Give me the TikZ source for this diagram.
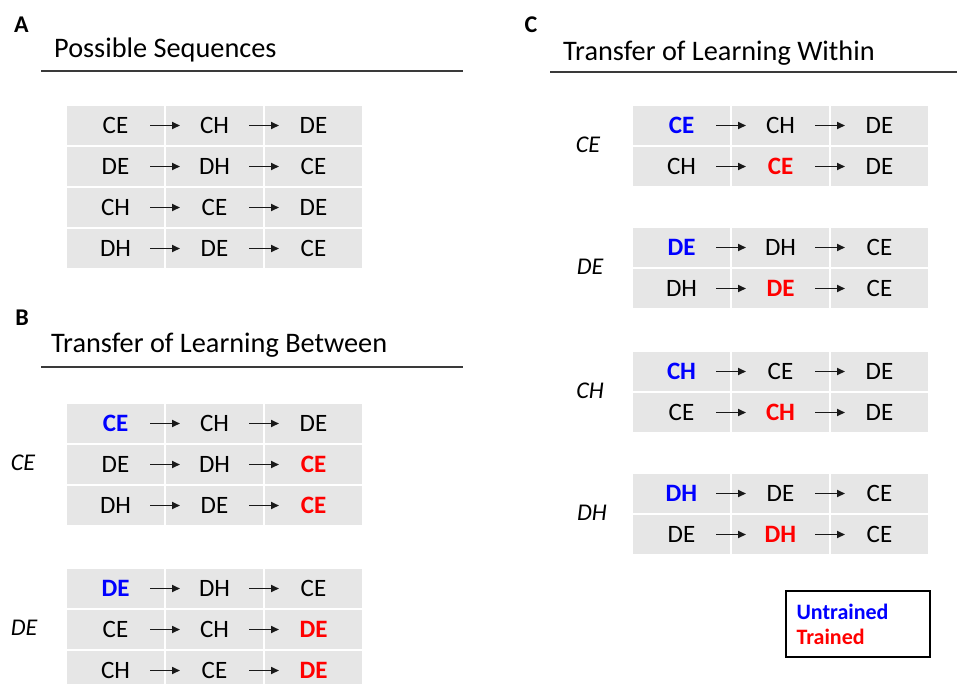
\documentclass[tikz,border=0pt]{standalone}
\usepackage{fontspec}
\setmainfont{Carlito}
\usetikzlibrary{arrows.meta}

\definecolor{cellgray}{HTML}{E6E6E6}
\definecolor{untrainedblue}{RGB}{0,0,255}
\definecolor{trainedred}{RGB}{255,0,0}
\definecolor{rulegray}{HTML}{3A3A3A}

% coloured sequence entries
\newcommand\untr[1]{{\bfseries\color{untrainedblue}#1}}
\newcommand\trn[1]{{\bfseries\color{trainedred}#1}}

% one row of a sequence table: name prefix, left x, centre y, three entries
\newcommand\seqrow[6]{%
  \node[cell] (#1a) at (#2+49.5,#3) {#4};
  \node[cell] (#1b) at (#2+148.5,#3) {#5};
  \node[cell] (#1c) at (#2+247.5,#3) {#6};
  \draw[seqarrow] ([xshift=-15pt]#1a.east) -- ([xshift=15pt]#1a.east);
  \draw[seqarrow] ([xshift=-15pt]#1b.east) -- ([xshift=15pt]#1b.east);
}

\tikzset{
  cell/.style={fill=cellgray, draw=white, line width=2pt, minimum width=99pt,
    minimum height=41pt, inner sep=0pt, outer sep=0pt,
    font=\fontsize{25}{25}\selectfont},
  seqarrow/.style={-{Triangle[length=8pt,width=7pt]}, line width=1.7pt, draw=black!90},
  panel/.style={font=\fontsize{24}{24}\selectfont\bfseries},
  heading/.style={anchor=base west, inner sep=0pt, font=\fontsize{28.3}{28.3}\selectfont},
  headrule/.style={draw=rulegray, line width=1.5pt},
  side/.style={font=\fontsize{24}{24}\selectfont\itshape, inner sep=0pt},
  legendtext/.style={anchor=west, inner sep=0pt, font=\fontsize{22}{22}\selectfont\bfseries}
}

\begin{document}
\begin{tikzpicture}[x=1pt, y=-1pt]
\path[use as bounding box] (0,0) rectangle (957,683);
\clip (0,0) rectangle (957,683);

% ---------- A: possible sequences ----------
\node[panel] (pA) at (21.5,24.5) {A};
\node[heading] (hA) at (54,57) {Possible Sequences};
\draw[headrule] (41,71) -- (463,71);
\seqrow{a1}{66}{125.5}{CE}{CH}{DE}
\seqrow{a2}{66}{166.5}{DE}{DH}{CE}
\seqrow{a3}{66}{207.5}{CH}{CE}{DE}
\seqrow{a4}{66}{248.5}{DH}{DE}{CE}

% ---------- B: transfer between ----------
\node[panel] (pB) at (22,318) {B};
\node[heading] (hB) at (51,352) {Transfer of Learning Between};
\draw[headrule] (41,367) -- (463,367);
\node[side] (sB1) at (23,463) {CE};
\seqrow{b1}{66}{423.5}{\untr{CE}}{CH}{DE}
\seqrow{b2}{66}{464.5}{DE}{DH}{\trn{CE}}
\seqrow{b3}{66}{505.5}{DH}{DE}{\trn{CE}}
\node[side] (sB2) at (24,628) {DE};
\seqrow{b4}{66}{588.5}{\untr{DE}}{DH}{CE}
\seqrow{b5}{66}{629.5}{CE}{CH}{\trn{DE}}
\seqrow{b6}{66}{670.5}{CH}{CE}{\trn{DE}}

% ---------- C: transfer within ----------
\node[panel] (pC) at (531,25) {C};
\node[heading] (hC) at (563,60) {Transfer of Learning Within};
\draw[headrule] (550,72) -- (957,72);
\node[side] (sC1) at (588,145) {CE};
\seqrow{c1}{632}{125.5}{\untr{CE}}{CH}{DE}
\seqrow{c2}{632}{166.5}{CH}{\trn{CE}}{DE}
\node[side] (sC2) at (590,267) {DE};
\seqrow{c3}{632}{247.5}{\untr{DE}}{DH}{CE}
\seqrow{c4}{632}{288.5}{DH}{\trn{DE}}{CE}
\node[side] (sC3) at (590,391) {CH};
\seqrow{c5}{632}{371.5}{\untr{CH}}{CE}{DE}
\seqrow{c6}{632}{412.5}{CE}{\trn{CH}}{DE}
\node[side] (sC4) at (592,513) {DH};
\seqrow{c7}{632}{493.5}{\untr{DH}}{DE}{CE}
\seqrow{c8}{632}{534.5}{DE}{\trn{DH}}{CE}

% legend
\node[draw=black, line width=1.3pt, minimum width=144pt, minimum height=66pt,
      inner sep=0pt] (legend) at (858,624) {};
\node[legendtext, text=untrainedblue] (lgU) at ([xshift=11pt,yshift=12pt]legend.west) {Untrained};
\node[legendtext, text=trainedred] (lgT) at ([xshift=11pt,yshift=-13pt]legend.west) {Trained};
\end{tikzpicture}
\end{document}
